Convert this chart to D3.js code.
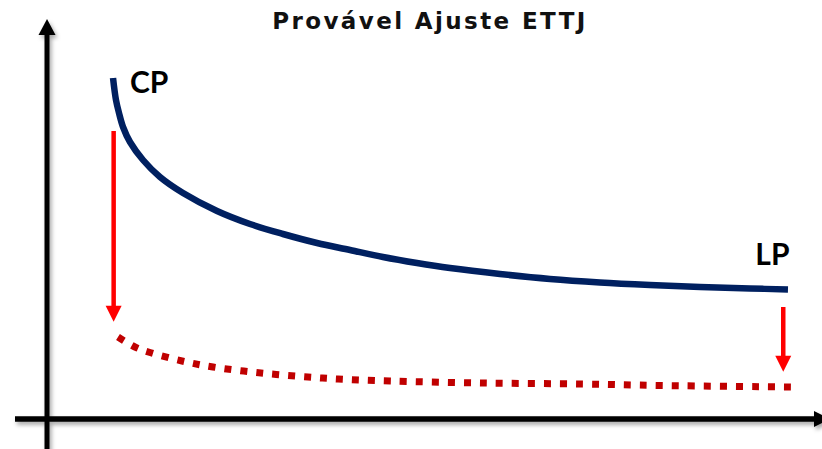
<!DOCTYPE html>
<html>
<head>
<meta charset="utf-8">
<script src="https://cdn.jsdelivr.net/npm/d3@7"></script>
<style>
  html, body { margin: 0; padding: 0; background: #ffffff; }
  svg { display: block; }
</style>
</head>
<body>
<svg id="chart" width="822" height="449"></svg>
<script>
// Yield curve (ETTJ): current curve and the expected shifted curve.
// x = prazo (maturity, 0-100), y = taxa (rate, 0-100)
const prazoAtual = [8.52, 8.9, 9.29, 9.81, 10.71, 12.39, 14.58, 17.55, 21.94, 26.19, 30.45, 34.84, 39.1, 43.35, 47.74, 52.0, 58.45, 64.9, 71.35, 77.81, 84.26, 90.71, 95.61];
const taxaAtual  = [85.25, 79.75, 76.5, 73.0, 69.25, 64.75, 60.5, 56.5, 52.0, 48.75, 46.25, 44.0, 42.25, 40.5, 39.0, 37.75, 36.25, 35.0, 34.13, 33.5, 33.0, 32.63, 32.38];

const prazoAjuste = [9.16, 11.35, 13.29, 17.42, 21.42, 27.61, 33.68, 37.55, 44.26, 56.26, 69.16, 79.1, 96.13];
const taxaAjuste  = [20.5, 18.0, 16.63, 14.5, 13.0, 11.5, 10.5, 10.0, 9.5, 9.0, 8.75, 8.38, 8.0];

// Downward shift arrows: [prazo, taxa inicial, taxa final]
const setas = [
  [8.6, 72.0, 24.3],
  [95.0, 28.0, 11.8]
];

const rotulos = [
  { texto: "CP", prazo: 10.7, taxa: 81.5 },
  { texto: "LP", prazo: 91.4, taxa: 38.5 }
];

const titulo = "Provável Ajuste ETTJ";

const svg = d3.select("#chart");
const W = 822, H = 449;

const x = d3.scaleLinear().domain([0, 100]).range([47, 822]);
const y = d3.scaleLinear().domain([0, 100]).range([419, 19]);

const defs = svg.append("defs");

// soft drop shadow under the axes
const sh = defs.append("filter").attr("id", "sombra")
  .attr("x", "-20%").attr("y", "-20%").attr("width", "140%").attr("height", "140%");
sh.append("feDropShadow")
  .attr("dx", 2).attr("dy", 3).attr("stdDeviation", 2)
  .attr("flood-color", "#000").attr("flood-opacity", 0.35);

// Axes drawn as arrows
const eixos = svg.append("g").attr("filter", "url(#sombra)");
const x0 = x(0), y0 = y(0);

// vertical axis
eixos.append("line")
  .attr("x1", x0).attr("x2", x0)
  .attr("y1", H + 5).attr("y2", y(100) + 14)
  .attr("stroke", "#000").attr("stroke-width", 5);
eixos.append("path")
  .attr("d", `M${x0},${y(100)} L${x0 - 8.5},${y(100) + 16} L${x0 + 8.5},${y(100) + 16} Z`)
  .attr("fill", "#000");

// horizontal axis
eixos.append("line")
  .attr("x1", 15).attr("x2", x(100) - 6)
  .attr("y1", y0).attr("y2", y0)
  .attr("stroke", "#000").attr("stroke-width", 5.5);
eixos.append("path")
  .attr("d", `M${x(100) + 8},${y0} L${x(100) - 8},${y0 - 8} L${x(100) - 8},${y0 + 8} Z`)
  .attr("fill", "#000");

// Title
svg.append("text")
  .attr("x", 430).attr("y", 29)
  .attr("text-anchor", "middle")
  .attr("font-family", "'DejaVu Sans', sans-serif")
  .attr("font-weight", 700)
  .attr("font-size", 23)
  .attr("letter-spacing", "2.4px")
  .attr("fill", "#111")
  .text(titulo);

// Current curve
const linhaAtual = d3.line()
  .x((d, i) => x(prazoAtual[i]))
  .y((d, i) => y(taxaAtual[i]))
  .curve(d3.curveCatmullRom.alpha(0.5));

svg.append("path")
  .attr("d", linhaAtual(prazoAtual))
  .attr("fill", "none")
  .attr("stroke", "#002060")
  .attr("stroke-width", 6.5);

// Expected curve after adjustment (square dots)
const linhaAjuste = d3.line()
  .x((d, i) => x(prazoAjuste[i]))
  .y((d, i) => y(taxaAjuste[i]))
  .curve(d3.curveCatmullRom.alpha(0.5));

svg.append("path")
  .attr("d", linhaAjuste(prazoAjuste))
  .attr("fill", "none")
  .attr("stroke", "#C00000")
  .attr("stroke-width", 7)
  .attr("stroke-dasharray", "7 9")
  .attr("stroke-linecap", "butt");

// Shift arrows
const gSetas = svg.append("g");
setas.forEach(([p, t0, t1]) => {
  const cx = x(p), ya = y(t0), yb = y(t1);
  gSetas.append("line")
    .attr("x1", cx).attr("x2", cx)
    .attr("y1", ya).attr("y2", yb - 14)
    .attr("stroke", "#FF0000").attr("stroke-width", 4.5);
  gSetas.append("path")
    .attr("d", `M${cx},${yb} L${cx - 8},${yb - 16} L${cx + 8},${yb - 16} Z`)
    .attr("fill", "#FF0000");
});

// End labels
svg.selectAll("text.rotulo")
  .data(rotulos)
  .join("text")
  .attr("class", "rotulo")
  .attr("x", d => x(d.prazo))
  .attr("y", d => y(d.taxa))
  .attr("font-family", "Lato, 'Open Sans', sans-serif")
  .attr("font-weight", 700)
  .attr("font-size", 30)
  .attr("fill", "#000")
  .text(d => d.texto);
</script>
</body>
</html>
